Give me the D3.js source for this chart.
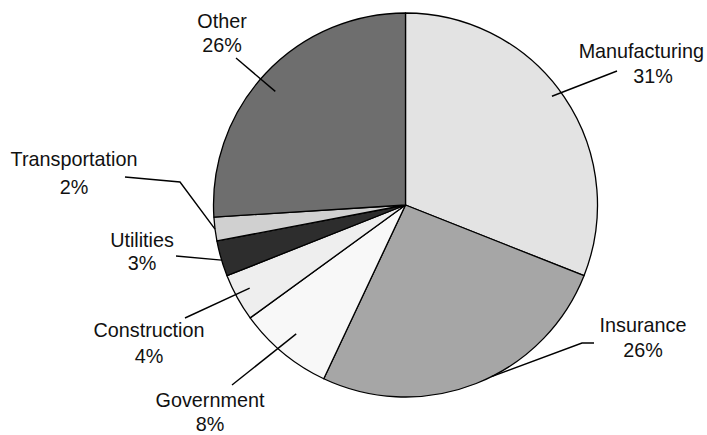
<!DOCTYPE html>
<html>
<head>
<meta charset="utf-8">
<script src="https://cdn.jsdelivr.net/npm/d3@7/dist/d3.min.js"></script>
<style>
  html, body { margin: 0; padding: 0; background: #ffffff; }
  svg { display: block; }
  text { font-family: "Liberation Sans", Arial, Helvetica, sans-serif; font-size: 19.8px; fill: #111; }
</style>
</head>
<body>
<svg id="chart" width="707" height="435"></svg>
<script>
// ---- data ----
const categories = ["Manufacturing", "Insurance", "Government", "Construction", "Utilities", "Transportation", "Other"];
const shares = [31, 26, 8, 4, 3, 2, 26];
const fills = ["#e3e3e3", "#a6a6a6", "#f8f8f8", "#eeeeee", "#2d2d2d", "#d0d0d0", "#6e6e6e"];

// ---- label layout (annotation positions, not data) ----
// start: [angle offset from slice mid (deg), radius fraction]; path: elbow/end points; label: [cx, baseline], gap
const labelLayout = [
  { start: [-2.4, 0.95], path: [[617, 71]], label: [653, 58], gap: 25 },
  { start: [-5.0, 1.0], path: [[582, 343], [594, 343]], label: [643, 332], gap: 25 },
  { start: [0.7, 0.88], path: [[232, 385]], label: [210, 407], gap: 24 },
  { start: [0.7, 0.92], path: [[185, 318]], label: [149, 337], gap: 26 },
  { start: [-0.5, 1.0], path: [[176, 256]], label: [142, 247], gap: 23 },
  { start: [0.0, 1.0], path: [[180, 182], [125, 177]], label: [74, 166], gap: 28 },
  { start: [-2.1, 0.9], path: [[236, 58]], label: [222, 28], gap: 24 }
];

const svg = d3.select("#chart");
const W = 707, H = 435;
const cx = 405.5, cy = 205, R = 192;

const data = categories.map((c, i) => ({ name: c, value: shares[i], fill: fills[i], layout: labelLayout[i] }));

const pie = d3.pie().value(d => d.value).sort(null).startAngle(0).endAngle(2 * Math.PI);
const arcs = pie(data);
const arc = d3.arc().innerRadius(0).outerRadius(R);

const g = svg.append("g").attr("transform", `translate(${cx},${cy})`);

g.selectAll("path.slice")
  .data(arcs)
  .enter().append("path")
  .attr("class", "slice")
  .attr("d", arc)
  .attr("fill", d => d.data.fill)
  .attr("stroke", "#000")
  .attr("stroke-width", 1.3)
  .attr("stroke-linejoin", "round");

// leader lines
const polar = (a, r) => [cx + r * Math.sin(a), cy - r * Math.cos(a)];
const line = d3.line();
svg.selectAll("path.leader")
  .data(arcs)
  .enter().append("path")
  .attr("class", "leader")
  .attr("fill", "none")
  .attr("stroke", "#000")
  .attr("stroke-width", 1.4)
  .attr("d", d => {
    const L = d.data.layout;
    const mid = (d.startAngle + d.endAngle) / 2 + L.start[0] * Math.PI / 180;
    const p0 = polar(mid, R * L.start[1]);
    return line([p0].concat(L.path));
  });

// labels
const labels = svg.selectAll("g.label")
  .data(arcs)
  .enter().append("g")
  .attr("class", "label");

labels.each(function(d) {
  const L = d.data.layout;
  const grp = d3.select(this);
  const t1 = grp.append("text")
    .attr("text-anchor", "middle")
    .attr("x", L.label[0])
    .attr("y", L.label[1])
    .text(d.data.name);
  // keep text inside the frame
  const w = t1.node().getComputedTextLength();
  let x1 = L.label[0];
  if (x1 + w / 2 > W - 3) x1 = W - 3 - w / 2;
  if (x1 - w / 2 < 3) x1 = 3 + w / 2;
  t1.attr("x", x1);
  grp.append("text")
    .attr("text-anchor", "middle")
    .attr("x", L.label[0])
    .attr("y", L.label[1] + L.gap)
    .text(d.data.value + "%");
});
</script>
</body>
</html>
